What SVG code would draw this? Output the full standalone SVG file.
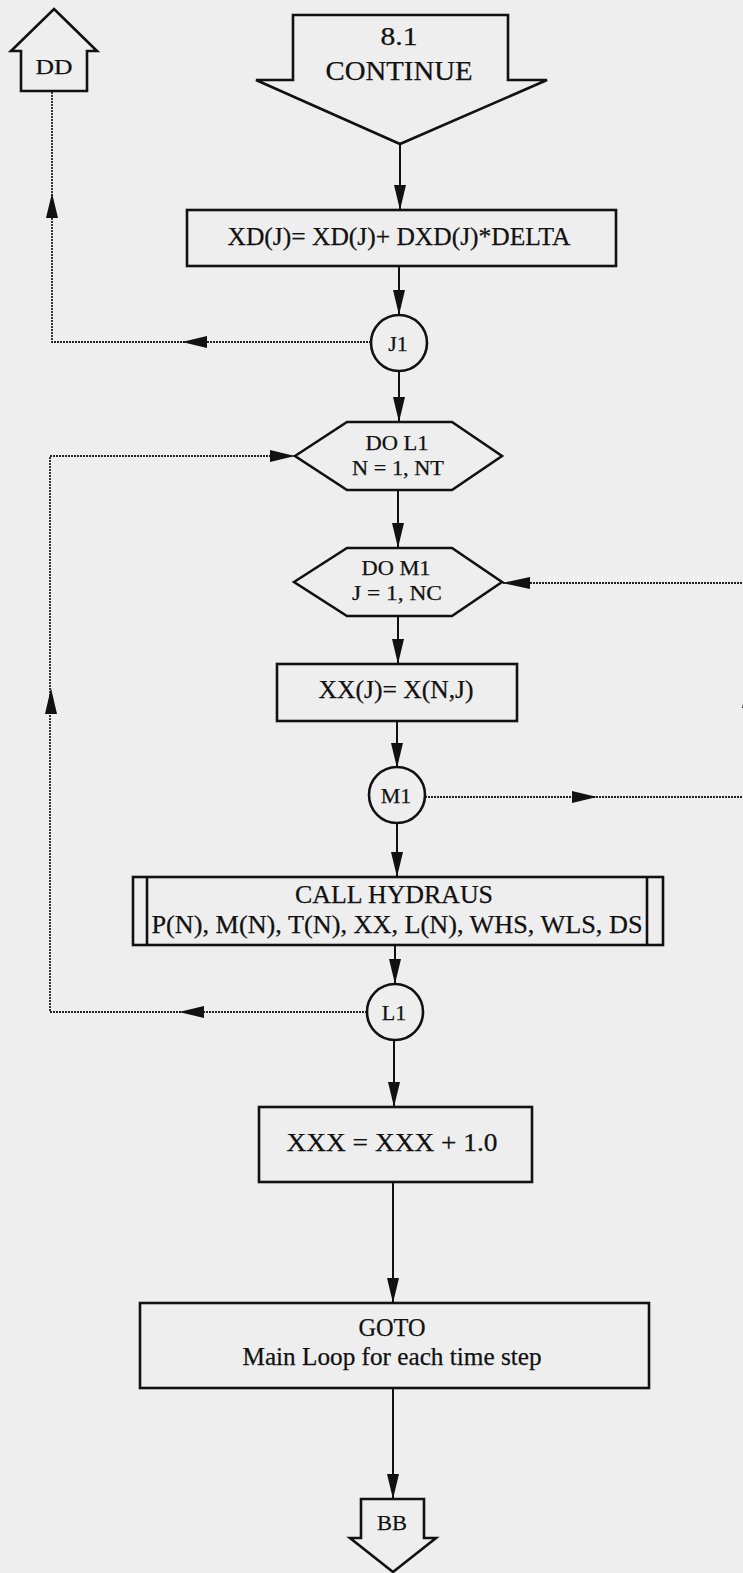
<svg xmlns="http://www.w3.org/2000/svg" width="743" height="1573" viewBox="0 0 743 1573">
<style>
.n{fill:none;stroke:#111;stroke-width:2.6;stroke-linejoin:miter}
.t{font-family:"Liberation Serif","Times New Roman",serif;fill:#111;text-anchor:middle;stroke:#111;stroke-width:0.25}
.s{fill:none;stroke:#111;stroke-width:2}
.d{fill:none;stroke:#222;stroke-width:1.8;stroke-dasharray:2 1}
.h{fill:#111;stroke:none}
</style>
<defs>
<marker id="ar" markerUnits="userSpaceOnUse" markerWidth="25" markerHeight="12" refX="25" refY="6" orient="auto">
<path d="M0,0 L25,6 L0,12 z" fill="#111"/>
</marker>
</defs>
<rect width="743" height="1573" fill="#eeeeee"/>
<g id="connectors">
<path class="s" marker-end="url(#ar)" d="M400,144 V210"/>
<path class="s" marker-end="url(#ar)" d="M399,266 V315"/>
<path class="s" marker-end="url(#ar)" d="M399,371 V422"/>
<path class="s" marker-end="url(#ar)" d="M398,490 V548"/>
<path class="s" marker-end="url(#ar)" d="M398,616 V664"/>
<path class="s" marker-end="url(#ar)" d="M397,721 V768"/>
<path class="s" marker-end="url(#ar)" d="M397,823 V877"/>
<path class="s" marker-end="url(#ar)" d="M395,945 V984"/>
<path class="s" marker-end="url(#ar)" d="M394,1040 V1107"/>
<path class="s" marker-end="url(#ar)" d="M393,1182 V1303"/>
<path class="s" marker-end="url(#ar)" d="M393,1388 V1499"/>
<path class="d" d="M371,342 H52 V91"/>
<path class="h" d="M182,342 L207,336 L207,348 z"/>
<path class="h" d="M52,193 L46,218 L58,218 z"/>
<path class="d" d="M367,1012 H50 V456 H295"/>
<path class="h" d="M179,1012 L204,1006 L204,1018 z"/>
<path class="h" d="M51,688 L45,714 L57,714 z"/>
<path class="h" d="M295,456 L270,450 L270,462 z"/>
<path class="d" d="M425,797 H748 V583 H502"/>
<path class="h" d="M597,797 L572,791 L572,803 z"/>
<path class="h" d="M748,683 L742,708 L754,708 z"/>
<path class="h" d="M502,583 L530,577 L530,589 z"/>
</g>
<g id="DD">
<polygon class="n" points="54,9 97,51 87,51 87,91 21,91 21,51 11,51"/>
<text class="t" x="54" y="74" font-size="22" textLength="37" lengthAdjust="spacingAndGlyphs">DD</text>
</g>
<g id="continue">
<polygon class="n" points="293,15 508,15 508,80 547,80 400,144 256,80 293,80"/>
<text class="t" x="399" y="45" font-size="26" textLength="37" lengthAdjust="spacingAndGlyphs">8.1</text>
<text class="t" x="399" y="80" font-size="27" textLength="147" lengthAdjust="spacingAndGlyphs">CONTINUE</text>
</g>
<g id="xd">
<rect class="n" x="187" y="210" width="429" height="56"/>
<text class="t" x="399" y="245" font-size="25" textLength="343" lengthAdjust="spacingAndGlyphs">XD(J)= XD(J)+ DXD(J)*DELTA</text>
</g>
<g id="J1">
<circle class="n" cx="399" cy="343" r="28"/>
<text class="t" x="398" y="351" font-size="22">J1</text>
</g>
<g id="doL1">
<polygon class="n" points="295,456 347,422 452,422 502,456 452,490 347,490"/>
<text class="t" x="397" y="450" font-size="20" textLength="63" lengthAdjust="spacingAndGlyphs">DO L1</text>
<text class="t" x="398" y="475" font-size="20" textLength="92" lengthAdjust="spacingAndGlyphs">N = 1, NT</text>
</g>
<g id="doM1">
<polygon class="n" points="294,582 347,548 452,548 502,582 452,616 347,616"/>
<text class="t" x="396" y="575" font-size="20" textLength="69" lengthAdjust="spacingAndGlyphs">DO M1</text>
<text class="t" x="397" y="600" font-size="20" textLength="90" lengthAdjust="spacingAndGlyphs">J = 1, NC</text>
</g>
<g id="xx">
<rect class="n" x="277" y="664" width="240" height="57"/>
<text class="t" x="396" y="698" font-size="25" textLength="155" lengthAdjust="spacingAndGlyphs">XX(J)= X(N,J)</text>
</g>
<g id="M1">
<circle class="n" cx="397" cy="795" r="28"/>
<text class="t" x="396" y="803" font-size="22">M1</text>
</g>
<g id="hydraus">
<rect class="n" x="133" y="877" width="530" height="68"/>
<line class="n" x1="147" y1="877" x2="147" y2="945"/>
<line class="n" x1="647" y1="877" x2="647" y2="945"/>
<text class="t" x="394" y="903" font-size="25" textLength="198" lengthAdjust="spacingAndGlyphs">CALL HYDRAUS</text>
<text class="t" x="397" y="933" font-size="25" textLength="491" lengthAdjust="spacingAndGlyphs">P(N), M(N), T(N), XX, L(N), WHS, WLS, DS</text>
</g>
<g id="L1">
<circle class="n" cx="395" cy="1012" r="28"/>
<text class="t" x="394" y="1020" font-size="22">L1</text>
</g>
<g id="xxx">
<rect class="n" x="259" y="1107" width="273" height="75"/>
<text class="t" x="392" y="1151" font-size="25" textLength="211" lengthAdjust="spacingAndGlyphs">XXX = XXX + 1.0</text>
</g>
<g id="goto">
<rect class="n" x="140" y="1303" width="509" height="85"/>
<text class="t" x="392" y="1336" font-size="25" textLength="67" lengthAdjust="spacingAndGlyphs">GOTO</text>
<text class="t" x="392" y="1365" font-size="25" textLength="299" lengthAdjust="spacingAndGlyphs">Main Loop for each time step</text>
</g>
<g id="BB">
<polygon class="n" points="361,1499 424,1499 424,1538 436,1538 393,1572 350,1538 361,1538"/>
<text class="t" x="392" y="1530" font-size="22" textLength="30" lengthAdjust="spacingAndGlyphs">BB</text>
</g>
</svg>
